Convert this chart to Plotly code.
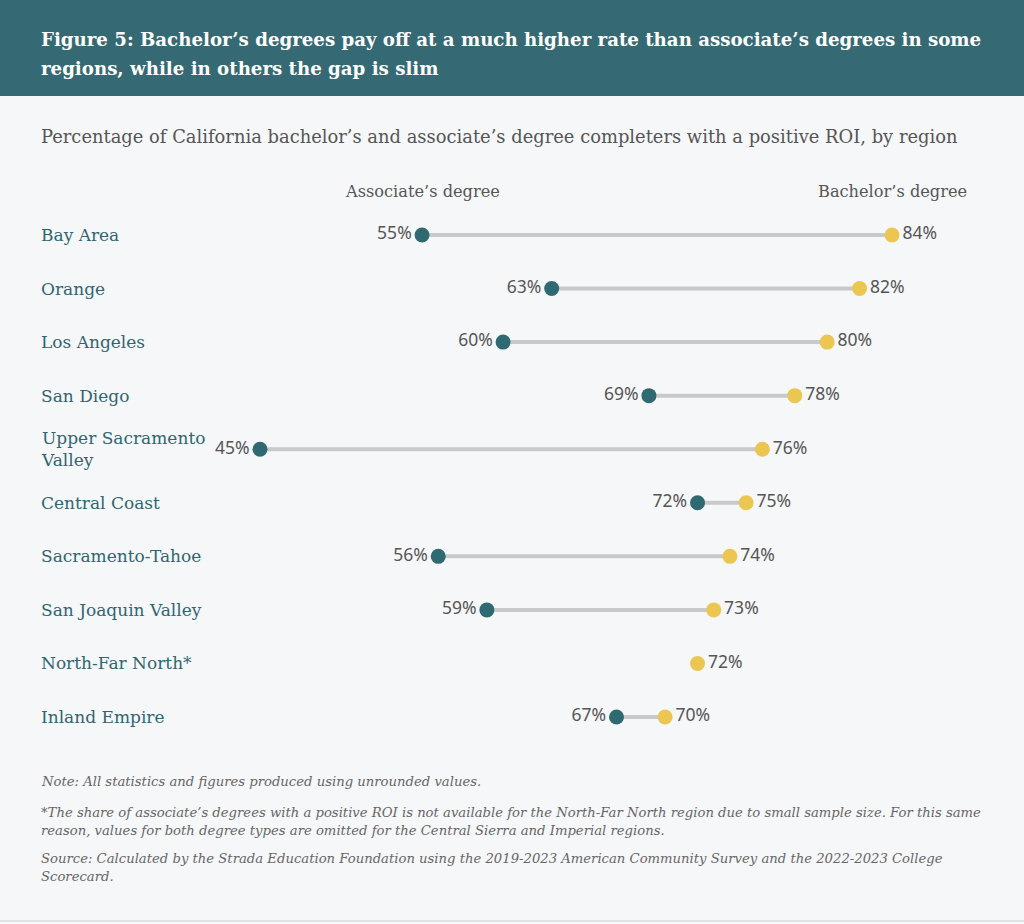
import plotly.graph_objects as go

regions = ["Bay Area", "Orange", "Los Angeles", "San Diego", "Upper Sacramento<br>Valley",
           "Central Coast", "Sacramento-Tahoe", "San Joaquin Valley", "North-Far North*",
           "Inland Empire"]
associate = [55, 63, 60, 69, 45, 72, 56, 59, None, 67]
bachelor = [84, 82, 80, 78, 76, 75, 74, 73, 72, 70]

title_lines = ["Figure 5: Bachelor’s degrees pay off at a much higher rate than associate’s degrees in some",
               "regions, while in others the gap is slim"]
subtitle = "Percentage of California bachelor’s and associate’s degree completers with a positive ROI, by region"
note_lines = [
    "Note: All statistics and figures produced using unrounded values.",
    "*The share of associate’s degrees with a positive ROI is not available for the North-Far North region due to small sample size. For this same",
    "reason, values for both degree types are omitted for the Central Sierra and Imperial regions.",
    "Source: Calculated by the Strada Education Foundation using the 2019-2023 American Community Survey and the 2022-2023 College",
    "Scorecard.",
]

W, H = 1024, 924
teal = "#2F6A72"
gold = "#EBC650"
grey_txt = "#555555"
serif = "DejaVu Serif"
sans = "Noto Sans"

rows = list(range(len(regions)))

# connector lines, one segment per region
lx, ly = [], []
for i, a, b in zip(rows, associate, bachelor):
    if a is None:
        continue
    lx += [a, b, None]
    ly += [i, i, None]

fig = go.Figure()
fig.add_trace(go.Scatter(x=lx, y=ly, mode="lines",
                         line=dict(color="#C9C9C9", width=4),
                         hoverinfo="skip", showlegend=False))
fig.add_trace(go.Scatter(x=associate, y=rows, mode="markers+text",
                         marker=dict(color=teal, size=15),
                         text=[f"{v}%" if v is not None else "" for v in associate],
                         textposition="middle left",
                         textfont=dict(family=sans, size=17.5, color=grey_txt),
                         name="Associate's degree", showlegend=False))
fig.add_trace(go.Scatter(x=bachelor, y=rows, mode="markers+text",
                         marker=dict(color=gold, size=15),
                         text=[f"{v}%" for v in bachelor],
                         textposition="middle right",
                         textfont=dict(family=sans, size=17.5, color=grey_txt),
                         name="Bachelor's degree", showlegend=False))

def py(p):
    return 1 - p / H

ann = []
for i, r in enumerate(regions):
    ann.append(dict(x=39 / W, xref="paper", y=i, yref="y", text=r, showarrow=False,
                    xanchor="left", yanchor="middle", align="left",
                    font=dict(family=serif, size=17, color="#2F6670")))

for y0, t in zip([40, 68], title_lines):
    ann.append(dict(x=39 / W, y=py(y0), xref="paper", yref="paper", showarrow=False,
                    xanchor="left", yanchor="middle", align="left",
                    text=f"<b>{t}</b>",
                    font=dict(family=serif, size=18.2, color="white")))
ann.append(dict(x=39 / W, y=py(136), xref="paper", yref="paper", showarrow=False,
                xanchor="left", yanchor="middle", text=subtitle,
                font=dict(family=serif, size=17.9, color=grey_txt)))
ann.append(dict(x=associate[0], xref="x", y=py(191), yref="paper", showarrow=False,
                xanchor="center", yanchor="middle", text="Associate’s degree",
                font=dict(family=serif, size=16.2, color=grey_txt)))
ann.append(dict(x=bachelor[0], xref="x", y=py(191), yref="paper", showarrow=False,
                xanchor="center", yanchor="middle", text="Bachelor’s degree",
                font=dict(family=serif, size=16.2, color=grey_txt)))

for y0, t in zip([781, 812, 830, 858, 876], note_lines):
    ann.append(dict(x=39 / W, y=py(y0), xref="paper", yref="paper", showarrow=False,
                    xanchor="left", yanchor="middle", align="left", text=f"<i>{t}</i>",
                    font=dict(family=serif, size=13.2, color="#666666")))

# pixel scale: 45% at x=260, 84% at x=892
k = (892 - 260) / 39
x0 = 45 - 260 / k
x1 = x0 + W / k
dy = (717 - 235) / 9
y_top = -235 / dy
y_bot = (H - 235) / dy

fig.update_layout(
    width=W, height=H,
    margin=dict(l=0, r=0, t=0, b=0),
    paper_bgcolor="#F6F7F9", plot_bgcolor="rgba(0,0,0,0)",
    xaxis=dict(range=[x0, x1], visible=False, fixedrange=True),
    yaxis=dict(range=[y_bot, y_top], visible=False, fixedrange=True),
    annotations=ann,
    shapes=[
        dict(type="rect", xref="paper", yref="paper", x0=0, x1=1, y0=py(96), y1=1,
             fillcolor="#356A74", line=dict(width=0), layer="below"),
        dict(type="line", xref="paper", yref="paper", x0=0, x1=1, y0=py(921), y1=py(921),
             line=dict(color="#DDE3E6", width=2)),
    ],
)

fig.write_html("out.html", config={"displayModeBar": False},
               post_script="document.body.style.margin='0';document.body.style.overflow='hidden';")
